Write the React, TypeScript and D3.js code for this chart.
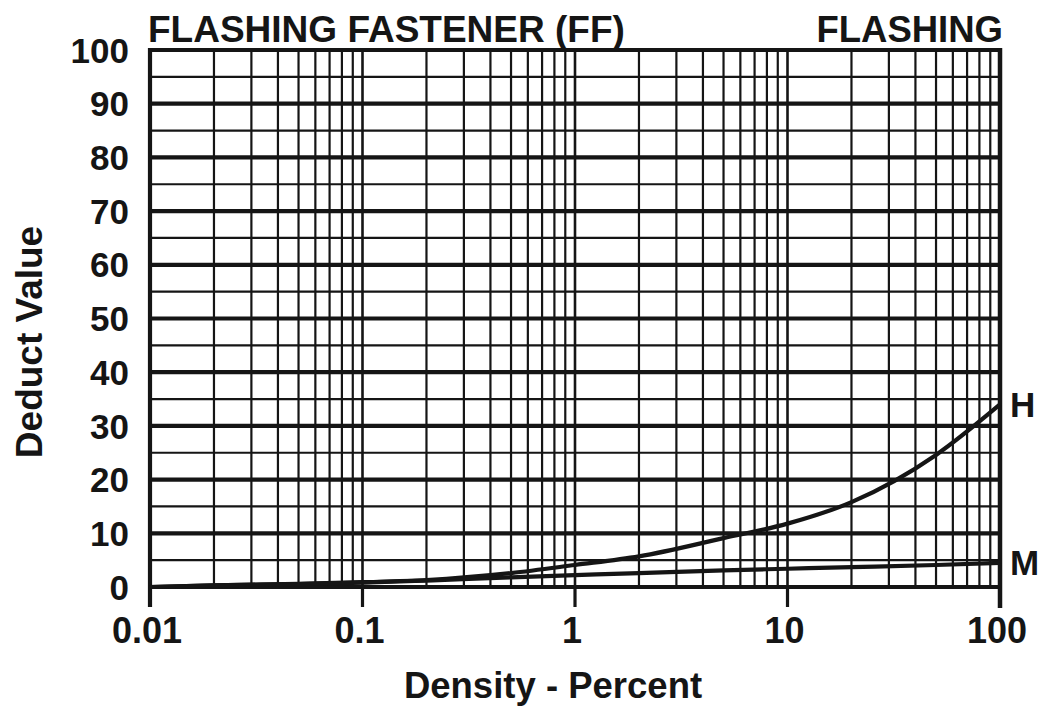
import React from "react";
import * as d3 from "d3";

const title = "FLASHING FASTENER (FF)";
const subtitle = "FLASHING";
const xLabel = "Density - Percent";
const yLabel = "Deduct Value";

const xTicks = [0.01, 0.1, 1, 10, 100];
const xTickLabels = ["0.01", "0.1", "1", "10", "100"];
const yTicks = [0, 10, 20, 30, 40, 50, 60, 70, 80, 90, 100];

const densities = [0.01, 0.02, 0.05, 0.1, 0.2, 0.5, 1, 2, 5, 10, 20, 50, 100];
const highValues = [0, 0.3, 0.6, 0.9, 1.3, 2.6, 4.1, 5.7, 9.1, 11.8, 15.8, 24.6, 34];
const mediumValues = [0, 0.3, 0.55, 0.8, 1.2, 1.8, 2.2, 2.6, 3.1, 3.4, 3.7, 4.1, 4.5];
const severityLabels = ["H", "M"];

const FONT = "'Liberation Sans', Arial, Helvetica, sans-serif";
const INK = "#151515";

export default function App() {
  const left = 150, right = 1000, top = 50, bottom = 587;
  const x = d3.scaleLog().domain([0.01, 100]).range([left, right]);
  const y = d3.scaleLinear().domain([0, 100]).range([bottom, top]);

  const minorX: number[] = [];
  for (let e = -2; e < 2; e++) {
    for (let m = 1; m <= 9; m++) {
      const v = m * Math.pow(10, e);
      if (v > 0.01) minorX.push(v);
    }
  }
  const gridY = d3.range(5, 100, 5);

  const line = d3
    .line<[number, number]>()
    .x((d) => x(d[0]))
    .y((d) => y(d[1]))
    .curve(d3.curveMonotoneX);

  const hPts = densities.map((d, i) => [d, highValues[i]] as [number, number]);
  const mPts = densities.map((d, i) => [d, mediumValues[i]] as [number, number]);

  return (
    <svg
      width={1044}
      height={709}
      style={{ position: "absolute", left: 0, top: 0, background: "#fff" }}
      fontFamily={FONT}
      fontWeight="bold"
    >
      <rect x={0} y={0} width={1044} height={709} fill="#fff" />
      {minorX.map((v, i) => (
        <line
          key={"vx" + i}
          x1={x(v)}
          x2={x(v)}
          y1={top}
          y2={bottom}
          stroke={INK}
          strokeWidth={xTicks.includes(v) ? 2.6 : 2.2}
        />
      ))}
      {gridY.map((v) => (
        <line
          key={"hy" + v}
          x1={left}
          x2={right}
          y1={y(v)}
          y2={y(v)}
          stroke={INK}
          strokeWidth={v % 10 === 0 ? 4.2 : 2.2}
        />
      ))}
      <line x1={left} x2={right} y1={top} y2={top} stroke={INK} strokeWidth={4.2} />
      <line x1={left} x2={right} y1={bottom} y2={bottom} stroke={INK} strokeWidth={4.2} />
      <line x1={left} x2={left} y1={top - 2} y2={607} stroke={INK} strokeWidth={4.2} />
      <line x1={right} x2={right} y1={top - 2} y2={608} stroke={INK} strokeWidth={4.5} />
      {xTicks.map((v) => (
        <line key={"t" + v} x1={x(v)} x2={x(v)} y1={bottom} y2={607} stroke={INK} strokeWidth={3.2} />
      ))}
      <path d={line(hPts) || ""} fill="none" stroke={INK} strokeWidth={4.2} />
      <path d={line(mPts) || ""} fill="none" stroke={INK} strokeWidth={4.2} />
      {xTicks.map((v, i) => (
        <text key={"xl" + v} x={x(v) - 3} y={643} textAnchor="middle" fontSize={36} fill={INK}>
          {xTickLabels[i]}
        </text>
      ))}
      {yTicks.map((v) => (
        <text
          key={"yl" + v}
          x={129}
          y={y(v)}
          dy="0.36em"
          textAnchor="end"
          fontSize={35}
          fill={INK}
        >
          {v}
        </text>
      ))}
      <text x={1010} y={y(highValues[highValues.length - 1])} dy="0.36em" fontSize={35} fill={INK}>
        {severityLabels[0]}
      </text>
      <text x={1010} y={y(mediumValues[mediumValues.length - 1])} dy="0.36em" fontSize={35} fill={INK}>
        {severityLabels[1]}
      </text>
      <text x={148} y={42} fontSize={37} fill={INK}>
        {title}
      </text>
      <text x={1003} y={42} textAnchor="end" fontSize={36.5} fill={INK}>
        {subtitle}
      </text>
      <text x={553} y={698} textAnchor="middle" fontSize={36.5} fill={INK}>
        {xLabel}
      </text>
      <text transform="translate(42,342) rotate(-90)" textAnchor="middle" fontSize={37} fill={INK}>
        {yLabel}
      </text>
    </svg>
  );
}
